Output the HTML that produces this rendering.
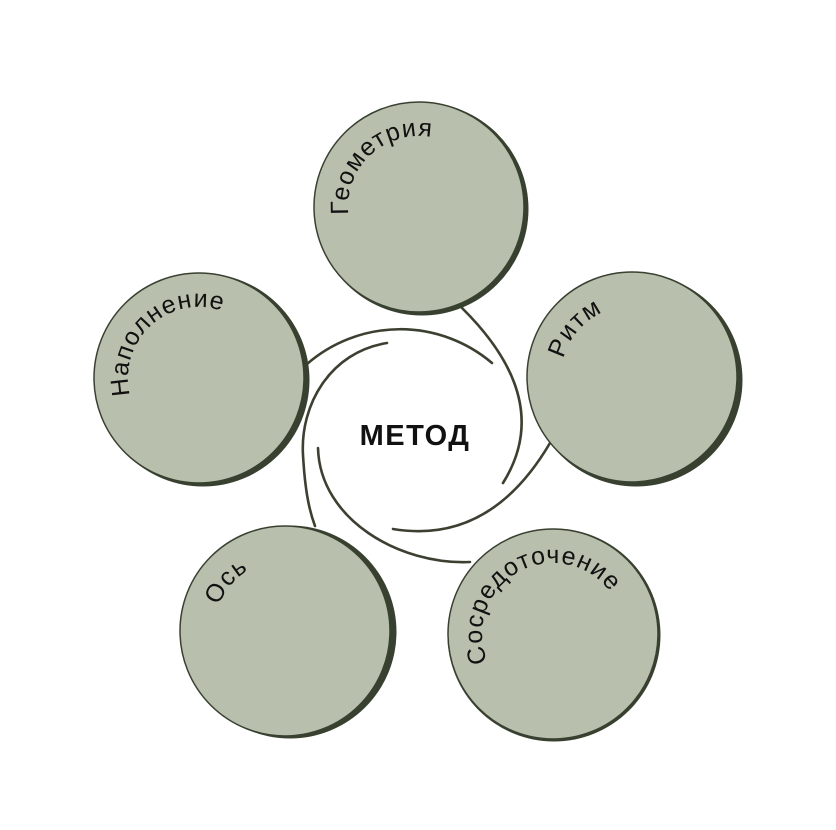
<!DOCTYPE html>
<html><head><meta charset="utf-8"><style>
html,body{margin:0;padding:0;background:#fff}
svg{display:block}
text{font-family:"Liberation Sans","DejaVu Sans",sans-serif}
</style></head><body>
<svg id="d" width="836" height="830" viewBox="0 0 836 830">
<g fill="none" stroke="#3b4030" stroke-width="2.6" stroke-linecap="round">
<path d="M307,364 A142,142 0 0 1 492,363"/>
<path d="M387,343 C330,352 300,405 303,455 C305,490 309,510 315,526"/>
<path d="M318,448 C320,520 400,565 470,562"/>
<path d="M462,308 Q555,400 503,483"/>
<path d="M393,529 Q490,545 550,443"/>
</g>
<g id="nodes"></g>
<text x="415" y="445" text-anchor="middle" font-size="29" font-weight="bold" letter-spacing="1.5" fill="#111">МЕТОД</text>
</svg>
<script>
const labels=["Геометрия","Ритм","Сосредоточение","Ось","Наполнение"];
const cxs=[419,632,553,285,199];
const cys=[207,377,634,631,378];
const startAngles=[174,195,157,201,166];
const dx=[3,4,1,5,4];
const dy=[2,3,1,1,2];
const NS="http://www.w3.org/2000/svg";
const g=document.getElementById('nodes');
const R=105,TR=71;
labels.forEach((lab,i)=>{
  const grp=document.createElementNS(NS,'g');
  
  
  const sh=document.createElementNS(NS,'circle');
  
  
  sh.setAttribute('cx',cxs[i]+dx[i]);sh.setAttribute('cy',cys[i]+dy[i]);sh.setAttribute('r',R+1.5);
  sh.setAttribute('fill','#384030');
  grp.appendChild(sh);
  const c=document.createElementNS(NS,'circle');
  
  
  c.setAttribute('cx',cxs[i]);c.setAttribute('cy',cys[i]);c.setAttribute('r',R);
  c.setAttribute('fill','#b8bfad');
  c.setAttribute('stroke','#384030');
  c.setAttribute('stroke-width','1.5');
  grp.appendChild(c);
  const a=startAngles[i]*Math.PI/180;
  const x0=cxs[i]+TR*Math.cos(a),y0=cys[i]+TR*Math.sin(a);
  const a2=a+Math.PI*1.2;
  const x1=cxs[i]+TR*Math.cos(a2),y1=cys[i]+TR*Math.sin(a2);
  const p=document.createElementNS(NS,'path');
  p.setAttribute('id','tp'+i);
  
  
  p.setAttribute('fill','none');
  p.setAttribute('d',`M${x0},${y0} A${TR},${TR} 0 1 1 ${x1},${y1}`);
  grp.appendChild(p);
  const t=document.createElementNS(NS,'text');
  
  
  t.setAttribute('font-size','25');
  t.setAttribute('letter-spacing','1');
  t.setAttribute('fill','#111');
  const tp=document.createElementNS(NS,'textPath');
  tp.setAttribute('href','#tp'+i);
  tp.textContent=lab;
  t.appendChild(tp);
  grp.appendChild(t);
  g.appendChild(grp);
});
</script>
</body></html>
